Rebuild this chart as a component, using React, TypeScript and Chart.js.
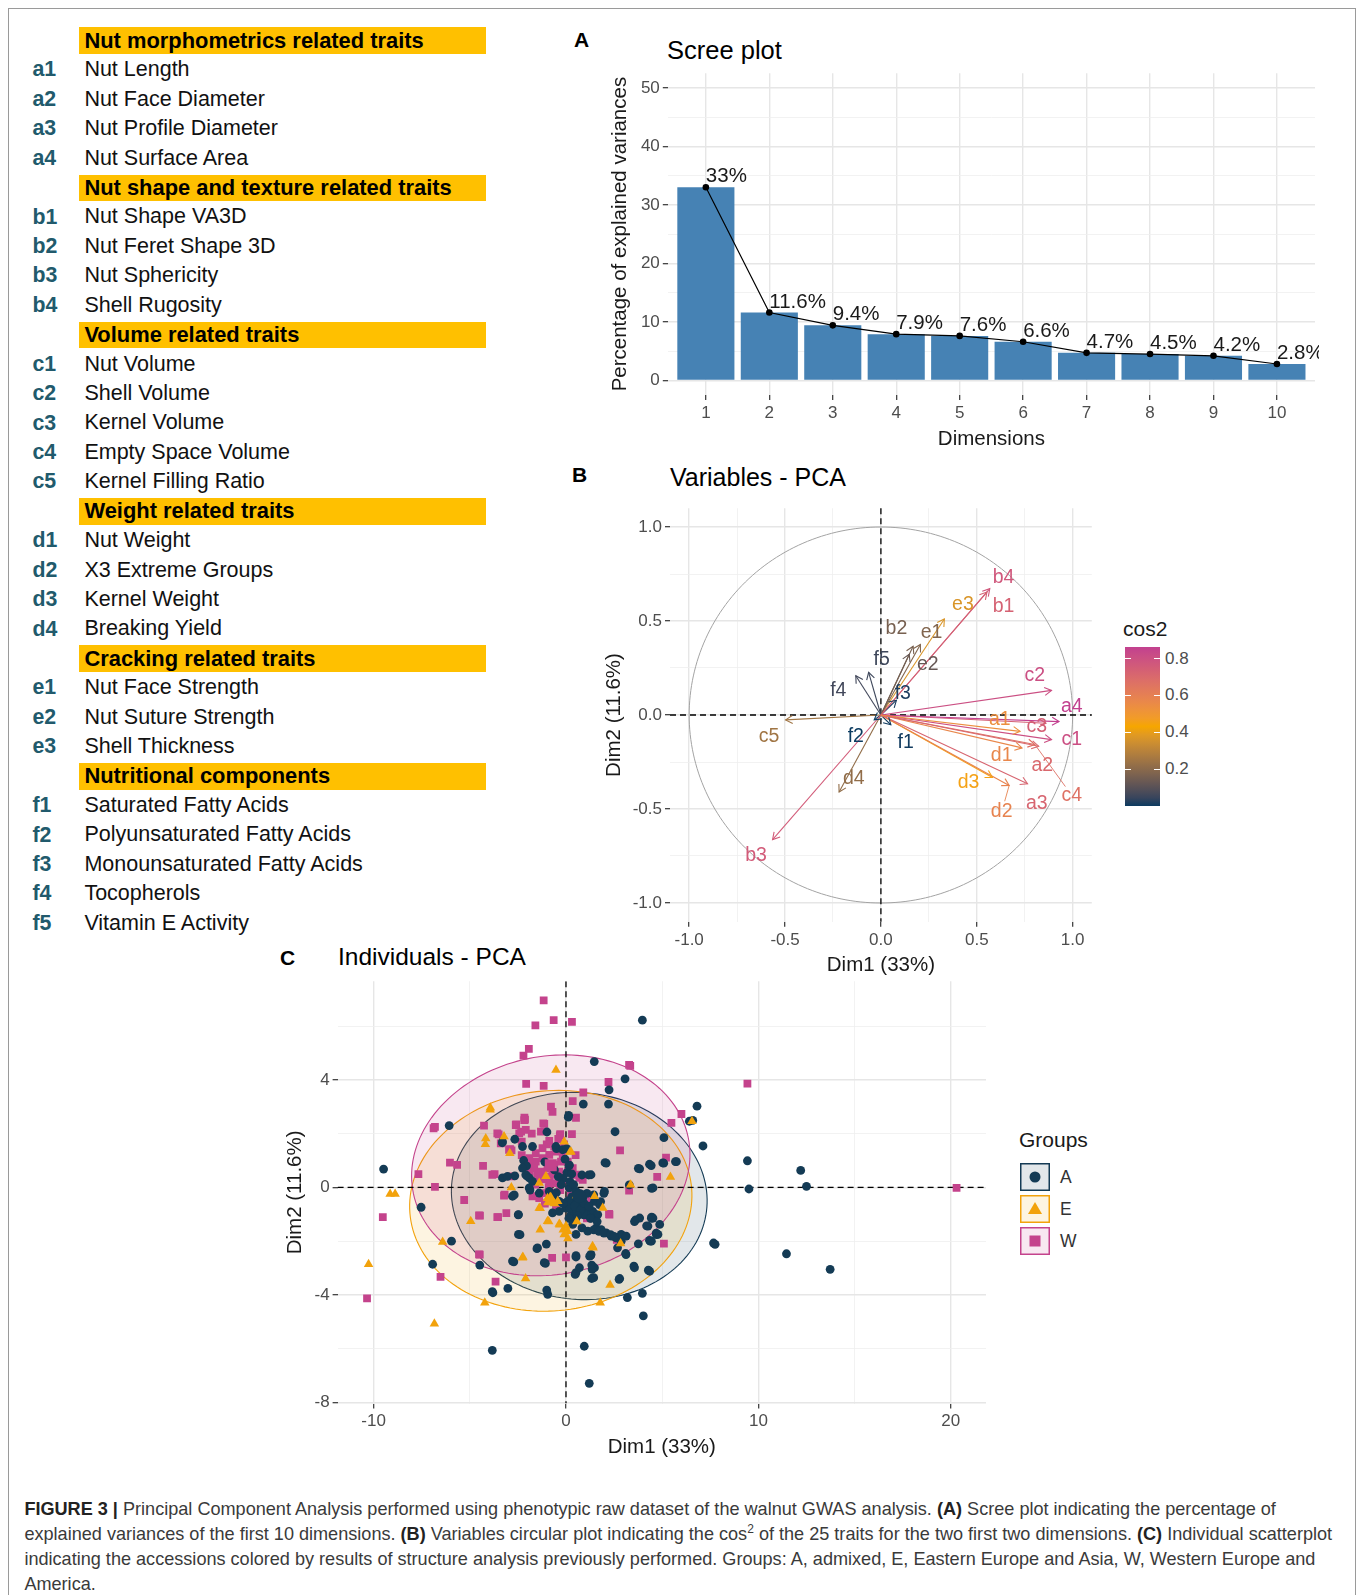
import React, { useEffect, useRef } from 'react';
import { Chart, registerables } from 'chart.js';

Chart.register(...registerables);

const FONT = '"Liberation Sans", Arial, Helvetica, sans-serif';
const TICK_COLOUR = '#4D4D4D';

// ---------------- Trait table ----------------
const traitGroupTitles = [
  'Nut morphometrics related traits',
  'Nut shape and texture related traits',
  'Volume related traits',
  'Weight related traits',
  'Cracking related traits',
  'Nutritional components',
];
const traitCodes = [
  ['a1', 'a2', 'a3', 'a4'],
  ['b1', 'b2', 'b3', 'b4'],
  ['c1', 'c2', 'c3', 'c4', 'c5'],
  ['d1', 'd2', 'd3', 'd4'],
  ['e1', 'e2', 'e3'],
  ['f1', 'f2', 'f3', 'f4', 'f5'],
];
const traitNames = [
  ['Nut Length', 'Nut Face Diameter', 'Nut Profile Diameter', 'Nut Surface Area'],
  ['Nut Shape VA3D', 'Nut Feret Shape 3D', 'Nut Sphericity', 'Shell Rugosity'],
  ['Nut Volume', 'Shell Volume', 'Kernel Volume', 'Empty Space Volume', 'Kernel Filling Ratio'],
  ['Nut Weight', 'X3 Extreme Groups', 'Kernel Weight', 'Breaking Yield'],
  ['Nut Face Strength', 'Nut Suture Strength', 'Shell Thickness'],
  ['Saturated Fatty Acids', 'Polyunsaturated Fatty Acids', 'Monounsaturated Fatty Acids', 'Tocopherols', 'Vitamin E Activity'],
];

// ---------------- Scree plot ----------------
const screeDimensions = [1, 2, 3, 4, 5, 6, 7, 8, 9, 10];
const screeVariance = [33, 11.6, 9.4, 7.9, 7.6, 6.6, 4.7, 4.5, 4.2, 2.8];
const screeYTicks = [0, 5, 10, 15, 20, 25, 30, 35, 40, 45, 50];

// ---------------- Variables PCA ----------------
const varNames = ['a1', 'a2', 'a3', 'a4', 'b1', 'b2', 'b3', 'b4', 'c1', 'c2', 'c3', 'c4', 'c5', 'd1', 'd2', 'd3', 'd4', 'e1', 'e2', 'e3', 'f1', 'f2', 'f3', 'f4', 'f5'];
const varDim1 = [0.726, 0.823, 0.765, 0.929, 0.553, 0.168, -0.565, 0.568, 0.89, 0.89, 0.861, 0.803, -0.497, 0.736, 0.669, 0.582, -0.218, 0.206, 0.148, 0.331, 0.052, -0.035, 0.081, -0.131, -0.064];
const varDim2 = [-0.087, -0.166, -0.366, -0.035, 0.654, 0.366, -0.663, 0.672, -0.131, 0.131, -0.044, -0.157, -0.026, -0.175, -0.375, -0.332, -0.41, 0.375, 0.323, 0.511, -0.052, -0.026, 0.079, 0.209, 0.227];
const varLabelDim1 = [0.62, 0.842, 0.813, 0.996, 0.64, 0.081, -0.651, 0.64, 0.996, 0.803, 0.813, 0.996, -0.584, 0.63, 0.63, 0.457, -0.141, 0.264, 0.245, 0.428, 0.129, -0.131, 0.114, -0.222, 0.004];
const varLabelDim2 = [-0.026, -0.27, -0.471, 0.044, 0.576, 0.462, -0.75, 0.733, -0.131, 0.209, -0.061, -0.428, -0.113, -0.218, -0.515, -0.358, -0.34, 0.436, 0.27, 0.585, -0.148, -0.113, 0.113, 0.131, 0.297];
const varRepelSegments = ['c4', 'd2'];
const varAxisTicks = [-1, -0.75, -0.5, -0.25, 0, 0.25, 0.5, 0.75, 1];
const cos2GradientColours = ['#0B3B60', '#F6A600', '#C2408F'];
const cos2LegendTicks = [0.2, 0.4, 0.6, 0.8];

// ---------------- Individuals PCA ----------------
const groupNames = ['A', 'E', 'W'];
const groupColours = ['#143B55', '#F2A20C', '#C4438C'];
const groupA: number[][] = [
  [3.97, 6.22], [1.47, 4.68], [3.07, 4.04], [2.24, 3.63], [0.9, 3.1], [2.21, 3.1], [0.14, 2.68], [2.55, 2.07], [6.81, 3.02], [6.59, 2.49],
  [6.41, 2.46], [7.12, 1.54], [5.09, 1.85], [5.69, 0.96], [5.03, 0.91], [4.34, 0.86], [3.76, 0.71], [2.03, 0.92], [4.45, -0.04], [7.67, -2.07],
  [3.62, -1.21], [4.45, -1.11], [4.19, -1.43], [4.69, -1.7], [4.34, -1.97], [3.76, -2.1], [3.1, -2.46], [4.28, -3.08], [3.53, -2.93], [2.79, -3.39],
  [1.34, -3.39], [1.34, -2.89], [1.29, -2.53], [0.52, -3.17], [0.52, -2.54], [3.19, -4.1], [3.97, -3.94], [4.02, -4.78], [0.95, -5.91], [1.21, -7.29],
  [-3.83, -6.06], [-9.48, 0.68], [-7.53, -0.74], [-6.07, 2.3], [-5.95, -2.0], [-6.93, -2.86], [-4.48, -2.89], [-3.83, -3.88], [-3.02, -3.76], [-1.0, -3.82],
  [-0.95, -3.98], [9.43, 0.99], [9.51, -0.06], [12.2, 0.63], [12.5, 0.04], [7.75, -2.12], [11.46, -2.47], [13.73, -3.05],
  [-3.31, 1.66], [-2.66, 1.79], [-2.66, 0.43], [-2.04, 0.43], [-1.87, -0.1], [-2.69, -0.28], [-2.48, -1.02], [-2.39, -1.76], [-1.51, -2.28], [-1.02, -2.11],
  [-2.71, -2.77], [-1.07, -2.83], [-3.8, -3.92], [-2.2, 1.0], [-2.05, 0.8], [-0.49, 1.44], [-0.99, 2.06],
  [-1.39, -0.21], [-0.87, -0.15], [-0.61, -0.4], [-0.35, -0.52], [0.17, -0.02], [0.52, -0.15], [0.61, -0.27], [0.87, -0.4], [0.35, -0.52], [0.7, -0.64],
  [1.04, -0.77], [1.39, -0.89], [1.65, -1.01], [1.74, -0.64], [1.48, -0.52], [2.0, -0.15], [0, -0.77], [0.26, -1.01], [0.52, -1.14], [1.04, -1.01],
  [1.3, -1.14], [1.57, -1.51], [1.83, -1.57], [2.09, -1.69], [2.35, -1.81], [2.61, -1.88], [2.87, -2.0], [-0.35, -0.89], [-0.7, -0.95], [0.52, -1.75],
  [0.35, -1.38], [1.13, -1.63], [3.83, -1.14], [4.52, -1.14], [4.87, -1.38], [4.26, -1.44], [4.78, -1.75], [4.38, -2.0], [2.87, -1.75], [3.13, -1.81],
  [0.52, -2.59], [1.3, -2.49], [1.48, -2.99], [0.7, -2.99], [-2.78, -2.74], [-1.13, -2.8],
  [-3.3, 1.7], [-2.26, 1.52], [-1.74, 1.52], [-0.52, 1.52], [-0.17, 1.4], [2.09, 0.9], [3.83, 0.69], [4.43, 0.81], [5.08, 0.9], [5.74, 0.96],
  [1.3, 0.47], [-2.26, 0.72], [-2.09, 0.47], [-1.91, 0.35], [-1.74, 0.22], [-3.3, 0.35], [-3.04, 0.41], [-1.91, -0.02], [-2.78, -0.33], [4.52, -0.02],
  [-2.47, -1.01], [-2.47, -1.75], [-1.48, -2.25],
  [0.04, 1.44], [0.18, 0.83], [0.83, 0.46], [1.18, 0.46], [-0.14, 0.33], [0.21, 0.21], [1.09, -0.22], [1.44, -0.28], [1.8, -0.53], [1.97, -0.22],
  [0.21, -0.78], [0.56, -0.9], [0.92, -1.02], [1.27, -1.15], [1.62, -1.27], [0.39, -1.27], [0.83, -1.51], [1.44, -1.58], [1.71, -1.64], [1.97, -1.7],
  [2.32, -1.76], [2.5, -1.82], [2.68, -2.25], [3.56, -1.27], [4.44, -1.15], [4.7, -1.76], [4.44, -2.0], [3.12, -2.5], [3.29, 0.09], [1.23, -2.56],
  [1.36, -3.05], [1.44, -3.36], [0.48, -3.24], [3.56, -2.99], [4.35, -3.12], [2.76, -3.42], [0.12, 2.61],
  [0.3, -0.35], [0.1, -0.5], [0.45, -0.7], [0.75, -0.85], [0.95, -0.6], [1.2, -0.7], [0.6, -1.05], [0.15, -1.15], [-0.15, -0.6], [-0.5, -0.2],
  [-0.25, 0.1], [0.05, 0.55], [0.4, 0.1], [-0.6, 0.65], [-1.1, 0.95], [-0.05, 1.05], [0.15, 0.8], [0.3, 0.5], [-0.4, 0.4],
];
const groupE: number[][] = [
  [-0.52, 4.37], [-3.93, 2.96], [-4.17, 1.82], [-4.19, 1.6], [-3.22, 1.89], [-2.92, 1.27], [-9.14, -0.25], [-8.88, -0.25], [-10.26, -2.86], [-6.84, -5.07],
  [-4.95, -1.26], [-6.41, -2.03], [-4.22, -4.29], [-2.1, -3.39], [-2.24, -2.59], [1.38, -2.19], [2.29, -3.63], [1.78, -4.29], [5.43, 0.39], [3.36, 0.1],
  [-2.84, 0], [-1.39, 0.16], [-1.04, 0.41], [-0.09, 1.7], [0.26, 1.33], [-0.96, -0.4], [-0.43, -0.52], [-0.83, -0.38], [-0.6, -0.6], [-1.39, -0.77],
  [-0.96, -1.26], [-1.34, -1.58], [-0.35, -1.36], [0, -1.44], [0.09, -1.63], [-0.09, -1.75], [0.1, -1.9], [-0.14, -1.58], [-0.32, -1.39], [0.56, -1.27],
  [-2.26, -2.62], [2.84, -2.09], [1.48, -0.33], [1.91, -0.77], [6.55, 2.46], [0.55, -0.3], [-3.94, 2.89], [-1.34, -0.78], [-0.9, -1.27], [0.21, 1.32],
  [1.41, -2.25],
];
const groupW: number[][] = [
  [-1.16, 6.96], [-1.59, 6.03], [-0.64, 6.22], [0.31, 6.16], [-1.93, 5.15], [-2.21, 4.9], [3.28, 4.56], [-2.07, 3.85], [-1.16, 3.78], [2.21, 3.92],
  [-6.81, 2.25], [-9.52, -1.11], [-10.34, -4.13], [-7.67, 0.49], [-6.81, 0.02], [6.0, 2.73], [5.48, 2.4], [2.81, 1.38], [5.2, 1.11], [4.74, 0.39],
  [3.28, -0.12], [5.09, -2.09], [-4.48, -2.5], [-6.52, -3.33], [-3.66, -3.51], [-0.72, -2.62], [-5.29, -0.47], [-4.47, -1.05], [-3.53, -1.11], [-3.1, -0.96],
  [-6.03, 0.92], [-5.66, 0.84], [-4.31, 0.8], [-3.71, 0.49], [-3.19, -0.27], [-4.26, 2.3], [-3.5, 1.97], [-2.9, 1.42], [-2.59, 2.34], [-2.16, 2.59],
  [-2.33, 2.07], [0.9, 3.53], [0, -2.6], [2.24, -0.99], [9.43, 3.86], [20.3, -0.02], [3.34, 4.52], [0.35, 3.21], [-0.78, 3.0], [-0.7, 2.81],
  [0.52, 2.59], [-1.18, 2.38], [-1.3, 2.07], [-0.87, 1.73], [-0.3, 1.98], [0.31, 1.98], [-3.57, 2.01], [-3.39, 1.64], [-2.96, 1.4], [-3.83, 0.47],
  [-2.87, 0.41], [-3.22, -0.31], [-4.52, -1.04], [-3.57, -1.11], [-4.52, -2.49], [-2.61, 2.32], [-2.17, 2.5], [-2.43, 2.01], [-2.09, 2.14], [-2.3, 1.7],
  [2.64, -1.95], [1.09, -1.15], [-0.32, 1.93], [-0.32, 1.44], [-2.13, 2.52], [-1.78, 2.0], [-1.13, 2.36], [-2.83, 1.38], [-6.88, 2.2],
  [-1.91, 1.09], [-1.57, 0.96], [-1.22, 1.09], [-0.87, 1.21], [-0.52, 1.33], [-1.65, 0.72], [-1.3, 0.59], [-0.96, 0.72], [-0.61, 0.84], [-0.26, 0.96],
  [-1.39, 0.35], [-1.04, 0.41], [-0.7, 0.47], [-0.35, 0.59], [-1.57, 1.27], [-0.17, 1.21], [0.09, 0.96], [0.35, 0.72], [0.7, 0.35], [-0.87, 0.22],
  [-0.52, 0.16], [-1.83, 0.9], [-2.09, 1.02], [-1.22, 1.46], [-0.61, 1.52], [-1.39, -0.4], [-1.04, -0.21], [-1.74, -0.33], [-0.78, -0.52], [-0.52, -0.77],
  [0.26, -0.21], [0.87, -0.64], [1.3, -0.4], [2.26, -1.01], [0.87, 0.28], [0.52, 0.47], [-1.0, 1.6], [-0.4, 1.8], [-1.5, 0.5], [-0.2, 0.3],
  [0.1, 0.6], [-1.2, 0.3], [-0.9, 0.0], [-1.6, 0.1], [-0.3, -0.1], [-1.9, 0.6], [-2.3, 1.2], [-0.1, 1.6], [0.5, 1.2], [-0.6, -0.2], [-1.1, -0.6],
];
const ellipseCentreX = [0.69, -0.79, -0.79];
const ellipseCentreY = [-0.32, -0.5, 0.82];
const ellipseRadiusX = [6.65, 7.34, 7.25];
const ellipseRadiusY = [3.85, 4.1, 4.08];
const ellipseTilt = [-0.04, 0.04, 0.08];
const indXTicks = [-10, -5, 0, 5, 10, 15, 20];
const indYTicks = [-8, -6, -4, -2, 0, 2, 4, 6];

// ---------------- colour helpers ----------------
function hexToRgb(h: string) {
  const n = parseInt(h.slice(1), 16);
  return [(n >> 16) & 255, (n >> 8) & 255, n & 255];
}
function toLin(c: number) { c /= 255; return c <= 0.04045 ? c / 12.92 : Math.pow((c + 0.055) / 1.055, 2.4); }
function fromLin(c: number) {
  const v = c <= 0.0031308 ? 12.92 * c : 1.055 * Math.pow(c, 1 / 2.4) - 0.055;
  return Math.round(Math.max(0, Math.min(1, v)) * 255);
}
function rgbToLab(rgb: number[]) {
  const R = toLin(rgb[0]), G = toLin(rgb[1]), B = toLin(rgb[2]);
  const X = (0.4124 * R + 0.3576 * G + 0.1805 * B) / 0.95047;
  const Y = 0.2126 * R + 0.7152 * G + 0.0722 * B;
  const Z = (0.0193 * R + 0.1192 * G + 0.9505 * B) / 1.08883;
  const f = (t: number) => (t > 0.008856 ? Math.cbrt(t) : 7.787 * t + 16 / 116);
  return [116 * f(Y) - 16, 500 * (f(X) - f(Y)), 200 * (f(Y) - f(Z))];
}
function labToHex(lab: number[]) {
  const fy = (lab[0] + 16) / 116, fx = fy + lab[1] / 500, fz = fy - lab[2] / 200;
  const inv = (t: number) => (t * t * t > 0.008856 ? t * t * t : (t - 16 / 116) / 7.787);
  const X = inv(fx) * 0.95047, Y = inv(fy), Z = inv(fz) * 1.08883;
  const r = fromLin(3.2406 * X - 1.5372 * Y - 0.4986 * Z);
  const g = fromLin(-0.9689 * X + 1.8758 * Y + 0.0415 * Z);
  const b = fromLin(0.0557 * X - 0.204 * Y + 1.057 * Z);
  return `rgb(${r},${g},${b})`;
}
function mixLab(a: string, b: string, t: number) {
  const A = rgbToLab(hexToRgb(a)), B = rgbToLab(hexToRgb(b));
  return labToHex(A.map((v, i) => v + (B[i] - v) * t));
}
function withAlpha(hex: string, a: number) {
  const c = hexToRgb(hex);
  return `rgba(${c[0]},${c[1]},${c[2]},${a})`;
}

const varCos2 = varDim1.map((x, i) => x * x + varDim2[i] * varDim2[i]);
const cos2Min = Math.min(...varCos2);
const cos2Max = Math.max(...varCos2);
function cos2Colour(v: number) {
  const t = Math.max(0, Math.min(1, (v - cos2Min) / (cos2Max - cos2Min)));
  if (t < 0.5) return mixLab(cos2GradientColours[0], cos2GradientColours[1], t * 2);
  return mixLab(cos2GradientColours[1], cos2GradientColours[2], (t - 0.5) * 2);
}
const varColours = varCos2.map(cos2Colour);

// ---------------- axis builder ----------------
function makeAxis(min: number, max: number, tickValues: number[], isMajor: (v: number) => boolean, fmt: (v: number) => string, title: string, titlePad: any) {
  return {
    type: 'linear',
    min,
    max,
    offset: false,
    afterBuildTicks: (ax: any) => { ax.ticks = tickValues.map((v) => ({ value: v })); },
    ticks: {
      autoSkip: false,
      maxRotation: 0,
      padding: 3,
      color: TICK_COLOUR,
      font: { family: FONT, size: 17 },
      callback: (v: any) => (isMajor(Number(v)) ? fmt(Number(v)) : ''),
    },
    grid: {
      offset: false,
      color: (c: any) => (c.tick && isMajor(c.tick.value) ? '#E6E6E6' : '#EFEFEF'),
      lineWidth: (c: any) => (c.tick && isMajor(c.tick.value) ? 1.4 : 0.8),
      drawTicks: true,
      tickLength: 5,
      tickWidth: 1.2,
      tickColor: (c: any) => (c.tick && isMajor(c.tick.value) ? '#333333' : 'rgba(0,0,0,0)'),
    },
    border: { display: false },
    title: { display: true, text: title, color: '#1A1A1A', font: { family: FONT, size: 20.5 }, padding: titlePad },
  };
}

// ---------------- plugins ----------------
const screeLabelPlugin = {
  id: 'screeLabels',
  afterDatasetsDraw(chart: any) {
    const meta = chart.getDatasetMeta(0);
    const ctx = chart.ctx;
    ctx.save();
    ctx.font = `20.5px ${FONT}`;
    ctx.fillStyle = '#1A1A1A';
    ctx.textAlign = 'left';
    ctx.textBaseline = 'alphabetic';
    meta.data.forEach((pt: any, i: number) => {
      ctx.fillText(`${screeVariance[i]}%`, pt.x, pt.y - 5);
    });
    ctx.restore();
  },
};

const variablesPlugin = {
  id: 'variablesDecor',
  beforeDatasetsDraw(chart: any) {
    const { ctx, chartArea: a, scales } = chart;
    const x = scales.x, y = scales.y;
    ctx.save();
    ctx.strokeStyle = '#A3A3A3';
    ctx.lineWidth = 1;
    ctx.beginPath();
    for (let s = 0; s <= 240; s++) {
      const t = (s / 240) * Math.PI * 2;
      const px = x.getPixelForValue(Math.cos(t));
      const py = y.getPixelForValue(Math.sin(t));
      if (s === 0) ctx.moveTo(px, py); else ctx.lineTo(px, py);
    }
    ctx.stroke();
    ctx.setLineDash([6, 4]);
    ctx.strokeStyle = '#000';
    ctx.lineWidth = 1.3;
    const x0 = x.getPixelForValue(0), y0 = y.getPixelForValue(0);
    ctx.beginPath();
    ctx.moveTo(a.left, y0); ctx.lineTo(a.right, y0);
    ctx.moveTo(x0, a.top); ctx.lineTo(x0, a.bottom);
    ctx.stroke();
    ctx.restore();
  },
  afterDatasetsDraw(chart: any) {
    const { ctx, scales } = chart;
    const x = scales.x, y = scales.y;
    const x0 = x.getPixelForValue(0), y0 = y.getPixelForValue(0);
    ctx.save();
    ctx.font = `19.5px ${FONT}`;
    ctx.textAlign = 'center';
    ctx.textBaseline = 'middle';
    varNames.forEach((n, i) => {
      const col = varColours[i];
      const tx = x.getPixelForValue(varDim1[i]);
      const ty = y.getPixelForValue(varDim2[i]);
      const ang = Math.atan2(ty - y0, tx - x0);
      ctx.strokeStyle = col;
      ctx.lineWidth = 1.1;
      ctx.beginPath();
      ctx.moveTo(tx - 8 * Math.cos(ang - Math.PI / 6), ty - 8 * Math.sin(ang - Math.PI / 6));
      ctx.lineTo(tx, ty);
      ctx.lineTo(tx - 8 * Math.cos(ang + Math.PI / 6), ty - 8 * Math.sin(ang + Math.PI / 6));
      ctx.stroke();
      const lx = x.getPixelForValue(varLabelDim1[i]);
      const ly = y.getPixelForValue(varLabelDim2[i]);
      if (varRepelSegments.includes(n)) {
        const d = Math.hypot(tx - lx, ty - ly);
        const sx = lx + ((tx - lx) / d) * 11, sy = ly + ((ty - ly) / d) * 11;
        ctx.lineWidth = 0.9;
        ctx.beginPath();
        ctx.moveTo(sx, sy);
        ctx.lineTo(tx, ty);
        ctx.stroke();
      }
      ctx.fillStyle = col;
      ctx.fillText(n, lx, ly);
    });
    ctx.restore();
  },
};

const individualsPlugin = {
  id: 'individualsDecor',
  beforeDatasetsDraw(chart: any) {
    const { ctx, chartArea: a, scales } = chart;
    const x = scales.x, y = scales.y;
    ctx.save();
    ctx.beginPath();
    ctx.rect(a.left, a.top, a.right - a.left, a.bottom - a.top);
    ctx.clip();
    groupNames.forEach((g, k) => {
      const c = Math.cos(ellipseTilt[k]), sn = Math.sin(ellipseTilt[k]);
      ctx.beginPath();
      for (let s = 0; s <= 160; s++) {
        const t = (s / 160) * Math.PI * 2;
        const ex = ellipseRadiusX[k] * Math.cos(t), ey = ellipseRadiusY[k] * Math.sin(t);
        const px = x.getPixelForValue(ellipseCentreX[k] + ex * c - ey * sn);
        const py = y.getPixelForValue(ellipseCentreY[k] + ex * sn + ey * c);
        if (s === 0) ctx.moveTo(px, py); else ctx.lineTo(px, py);
      }
      ctx.closePath();
      ctx.fillStyle = withAlpha(groupColours[k], 0.12);
      ctx.fill();
      ctx.strokeStyle = groupColours[k];
      ctx.lineWidth = 1.1;
      ctx.stroke();
    });
    ctx.setLineDash([6, 4]);
    ctx.strokeStyle = '#000';
    ctx.lineWidth = 1.3;
    const x0 = x.getPixelForValue(0), y0 = y.getPixelForValue(0);
    ctx.beginPath();
    ctx.moveTo(a.left, y0); ctx.lineTo(a.right, y0);
    ctx.moveTo(x0, a.top); ctx.lineTo(x0, a.bottom);
    ctx.stroke();
    ctx.restore();
  },
};

// ---------------- chart configs ----------------
function buildScree() {
  const pts = screeDimensions.map((d, i) => ({ x: d, y: screeVariance[i] }));
  return {
    type: 'bar',
    data: {
      datasets: [
        { type: 'line', data: pts, borderColor: '#000', borderWidth: 1.2, pointRadius: 3.3, pointBackgroundColor: '#000', pointBorderWidth: 0, fill: false },
        { type: 'bar', data: pts, backgroundColor: '#4682B4', borderWidth: 0, barPercentage: 0.9, categoryPercentage: 1 },
      ],
    },
    options: {
      animation: false,
      responsive: false,
      events: [],
      plugins: { legend: { display: false }, tooltip: { enabled: false } },
      scales: {
        x: makeAxis(0.4, 10.6, screeDimensions, () => true, (v) => String(v), 'Dimensions', { top: 1, bottom: 0 }),
        y: makeAxis(-2.5, 52.5, screeYTicks, (v) => v % 10 === 0, (v) => String(v), 'Percentage of explained variances', { top: 0, bottom: 5 }),
      },
    },
    plugins: [screeLabelPlugin],
  };
}

function buildVariables() {
  const half = (v: number) => Math.abs(v * 2 - Math.round(v * 2)) < 1e-6;
  return {
    type: 'scatter',
    data: {
      datasets: varNames.map((n, i) => ({
        label: n,
        data: [{ x: 0, y: 0 }, { x: varDim1[i], y: varDim2[i] }],
        showLine: true,
        borderColor: varColours[i],
        borderWidth: 1.1,
        pointRadius: 0,
        fill: false,
      })),
    },
    options: {
      animation: false,
      responsive: false,
      events: [],
      plugins: { legend: { display: false }, tooltip: { enabled: false } },
      scales: {
        x: makeAxis(-1.1, 1.1, varAxisTicks, half, (v) => v.toFixed(1), 'Dim1 (33%)', { top: 0, bottom: 0 }),
        y: makeAxis(-1.1, 1.1, varAxisTicks, half, (v) => v.toFixed(1), 'Dim2 (11.6%)', { top: 0, bottom: 3 }),
      },
    },
    plugins: [variablesPlugin],
  };
}

function buildIndividuals() {
  const toPts = (arr: number[][]) => arr.map((p) => ({ x: p[0], y: p[1] }));
  const groupPts = [groupA, groupE, groupW];
  const styles = ['circle', 'triangle', 'rect'];
  const radii = [4.4, 5.5, 5.5];
  const centroidRadii = [7, 9, 8.5];
  const mk = (k: number, data: any[], r: number) => ({
    label: groupNames[k],
    data,
    pointStyle: styles[k],
    pointRadius: r,
    pointBackgroundColor: groupColours[k],
    pointBorderWidth: 0,
    showLine: false,
  });
  // first dataset is drawn on top
  const datasets = [
    mk(1, [{ x: ellipseCentreX[1], y: ellipseCentreY[1] }], centroidRadii[1]),
    mk(0, [{ x: ellipseCentreX[0], y: ellipseCentreY[0] }], centroidRadii[0]),
    mk(2, [{ x: ellipseCentreX[2], y: ellipseCentreY[2] }], centroidRadii[2]),
    mk(1, toPts(groupPts[1]), radii[1]),
    mk(0, toPts(groupPts[0]), radii[0]),
    mk(2, toPts(groupPts[2]), radii[2]),
  ];
  return {
    type: 'scatter',
    data: { datasets },
    options: {
      animation: false,
      responsive: false,
      events: [],
      plugins: { legend: { display: false }, tooltip: { enabled: false } },
      scales: {
        x: makeAxis(-11.87, 21.83, indXTicks, (v) => v % 10 === 0, (v) => String(v), 'Dim1 (33%)', { top: 0, bottom: 0 }),
        y: makeAxis(-8.04, 7.67, indYTicks, (v) => v % 4 === 0, (v) => String(v), 'Dim2 (11.6%)', { top: 0, bottom: 4 }),
      },
    },
    plugins: [individualsPlugin],
  };
}

// ---------------- components ----------------
type Box = { l: number; t: number; w: number; h: number };
type Area = { l: number; t: number; r: number; b: number };

function ChartPanel({ box, area, build }: { box: Box; area: Area; build: () => any }) {
  const ref = useRef<HTMLCanvasElement>(null);
  useEffect(() => {
    const canvas = ref.current;
    if (!canvas) return;
    const config = build();
    const pad = { left: 0, top: 0, right: 0, bottom: 0 };
    config.options.layout = { padding: { ...pad } };
    const chart = new Chart(canvas, config);
    for (let k = 0; k < 3; k++) {
      const ca = chart.chartArea;
      pad.left += area.l - box.l - ca.left;
      pad.top += area.t - box.t - ca.top;
      pad.right += ca.right - (area.r - box.l);
      pad.bottom += ca.bottom - (area.b - box.t);
      (chart.options as any).layout.padding = { ...pad };
      chart.update();
    }
    return () => chart.destroy();
  }, []);
  return (
    <canvas
      ref={ref}
      width={box.w}
      height={box.h}
      style={{ position: 'absolute', left: box.l, top: box.t, width: box.w, height: box.h }}
    />
  );
}

function Txt({ x, cy, size, bold, color, children }: any) {
  return (
    <div
      style={{
        position: 'absolute',
        left: x,
        top: cy - size * 0.6,
        fontSize: size,
        lineHeight: `${size * 1.2}px`,
        fontWeight: bold ? 'bold' : 'normal',
        color: color || '#000',
        whiteSpace: 'nowrap',
      }}
    >
      {children}
    </div>
  );
}

function TraitTable() {
  const rows: any[] = [];
  let i = 0;
  const rowCy = (k: number) => 40.7 + k * 29.43;
  traitGroupTitles.forEach((title, g) => {
    const cy = rowCy(i++);
    rows.push(
      <div key={`h${g}`} style={{ position: 'absolute', left: 79.3, top: cy - 13.25, width: 406.7, height: 26.5, background: '#FFC000' }} />
    );
    rows.push(<Txt key={`ht${g}`} x={84.4} cy={cy} size={21.9} bold>{title}</Txt>);
    traitCodes[g].forEach((code, j) => {
      const c = rowCy(i++);
      rows.push(<Txt key={code} x={32.5} cy={c} size={21.3} bold color="#215A6C">{code}</Txt>);
      rows.push(<Txt key={`${code}n`} x={84.4} cy={c} size={21.5} color="#111">{traitNames[g][j]}</Txt>);
    });
  });
  return <>{rows}</>;
}

function Cos2Legend() {
  const top = 647, bottom = 805.6, left = 1125, width = 35;
  const yOf = (v: number) => bottom - ((v - cos2Min) / (cos2Max - cos2Min)) * (bottom - top);
  const stops: string[] = [];
  for (let s = 0; s <= 20; s++) {
    const v = cos2Min + (s / 20) * (cos2Max - cos2Min);
    stops.push(`${cos2Colour(v)} ${(s / 20) * 100}%`);
  }
  return (
    <>
      <Txt x={1123} cy={628.6} size={21} color="#1A1A1A">cos2</Txt>
      <div style={{ position: 'absolute', left, top, width, height: bottom - top, background: `linear-gradient(to top, ${stops.join(', ')})` }} />
      {cos2LegendTicks.map((v) => (
        <React.Fragment key={v}>
          <div style={{ position: 'absolute', left, top: yOf(v) - 0.6, width: 6, height: 1.2, background: '#fff' }} />
          <div style={{ position: 'absolute', left: left + width - 6, top: yOf(v) - 0.6, width: 6, height: 1.2, background: '#fff' }} />
          <Txt x={left + width + 5} cy={yOf(v)} size={17} color={TICK_COLOUR}>{v.toFixed(1)}</Txt>
        </React.Fragment>
      ))}
    </>
  );
}

function GroupLegend() {
  const tops = [1163, 1195, 1227];
  return (
    <>
      <Txt x={1019} cy={1140} size={21} color="#1A1A1A">Groups</Txt>
      {groupNames.map((g, k) => (
        <React.Fragment key={g}>
          <svg style={{ position: 'absolute', left: 1020, top: tops[k] }} width={30} height={28}>
            <rect x={0.75} y={0.75} width={28.5} height={26.5} fill={withAlpha(groupColours[k], 0.12)} stroke={groupColours[k]} strokeWidth={1.5} />
            {k === 0 && <circle cx={15} cy={14} r={5.5} fill={groupColours[k]} />}
            {k === 1 && <polygon points="15,7 22,19 8,19" fill={groupColours[k]} />}
            {k === 2 && <rect x={9.5} y={8.5} width={11} height={11} fill={groupColours[k]} />}
          </svg>
          <Txt x={1060} cy={tops[k] + 14} size={17.5} color="#333">{g}</Txt>
        </React.Fragment>
      ))}
    </>
  );
}

export default function App() {
  useEffect(() => {
    document.documentElement.style.overflow = 'hidden';
    document.body.style.overflow = 'hidden';
  }, []);
  return (
    <div style={{ position: 'absolute', left: 0, top: 0, width: 1358, height: 1595, overflow: 'hidden', fontFamily: FONT, background: '#fff' }}>
      <div style={{ position: 'absolute', left: 8, top: 8, width: 1346, height: 1620, border: '1px solid #9A9A9A' }} />
      <TraitTable />

      {/* Panel A */}
      <Txt x={574} cy={39.5} size={21} bold>A</Txt>
      <Txt x={667} cy={50} size={25.5}>Scree plot</Txt>
      <ChartPanel box={{ l: 590, t: 60, w: 729, h: 395 }} area={{ l: 667.8, t: 73.8, r: 1317.8, b: 395 }} build={buildScree} />

      {/* Panel B */}
      <Txt x={572} cy={475} size={21} bold>B</Txt>
      <Txt x={670} cy={477} size={25}>Variables - PCA</Txt>
      <ChartPanel box={{ l: 596, t: 495, w: 500, h: 485 }} area={{ l: 670, t: 502.2, r: 1091.8, b: 921.8 }} build={buildVariables} />
      <Cos2Legend />

      {/* Panel C */}
      <Txt x={280} cy={958} size={21} bold>C</Txt>
      <Txt x={338} cy={957} size={24.5}>Individuals - PCA</Txt>
      <ChartPanel box={{ l: 270, t: 968, w: 730, h: 495 }} area={{ l: 337.6, t: 979.9, r: 986, b: 1403.5 }} build={buildIndividuals} />
      <GroupLegend />

      {/* Caption */}
      <div style={{ position: 'absolute', left: 24.4, top: 1497, fontSize: 18.1, lineHeight: '24.9px', color: '#3A3A3A', whiteSpace: 'nowrap' }}>
        <div><b style={{ color: '#222' }}>FIGURE 3 |</b> Principal Component Analysis performed using phenotypic raw dataset of the walnut GWAS analysis. <b style={{ color: '#222' }}>(A)</b> Scree plot indicating the percentage of</div>
        <div>explained variances of the first 10 dimensions. <b style={{ color: '#222' }}>(B)</b> Variables circular plot indicating the cos<sup style={{ fontSize: 12, lineHeight: 0 }}>2</sup> of the 25 traits for the two first two dimensions. <b style={{ color: '#222' }}>(C)</b> Individual scatterplot</div>
        <div>indicating the accessions colored by results of structure analysis previously performed. Groups: A, admixed, E, Eastern Europe and Asia, W, Western Europe and</div>
        <div>America.</div>
      </div>
    </div>
  );
}
